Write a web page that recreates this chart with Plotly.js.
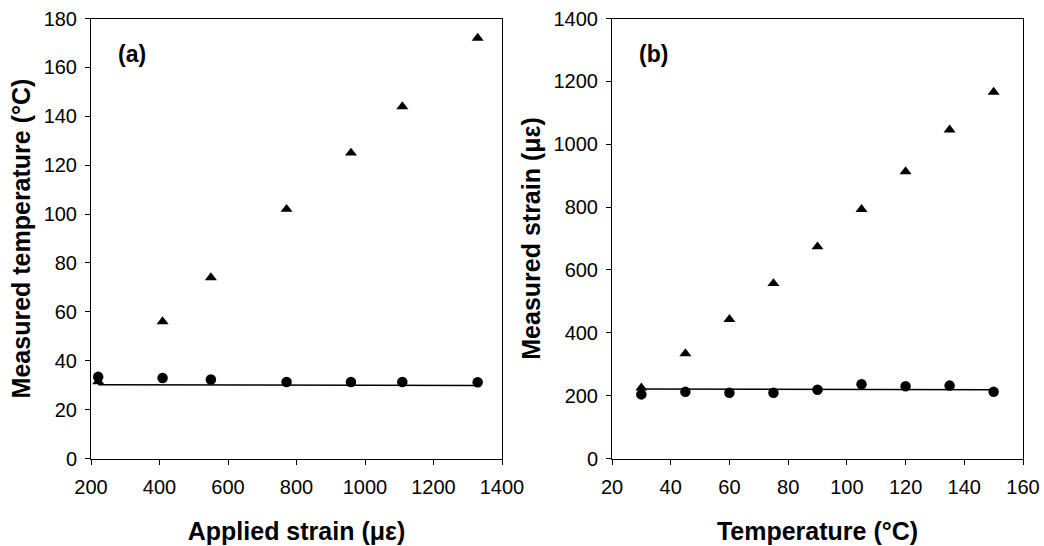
<!DOCTYPE html>
<html>
<head>
<meta charset="utf-8">
<script src="https://cdn.plot.ly/plotly-3.0.1.min.js"></script>
<style>html,body{margin:0;padding:0;background:#fff;}#chart{width:1044px;height:546px;}</style>
</head>
<body>
<div id="chart"></div>
<script>
// Panel (a): measured temperature vs applied strain
const strainA = [221, 409, 550, 771, 959, 1109, 1329];
const tempTriangleA = [31.5, 56, 74, 102, 125, 144, 172];
const tempCircleA = [33.4, 32.9, 32.3, 31.3, 31.3, 31.3, 31.2];
const lineA_x = [221, 1329];
const lineA_y = [30.2, 29.9];

// Panel (b): measured strain vs temperature
const tempB = [30, 45, 60, 75, 90, 105, 120, 135, 150];
const strainTriangleB = [225, 334, 443, 557, 674, 793, 913, 1046, 1166];
const strainCircleB = [204, 212, 209, 209, 219, 236, 230, 232, 212];
const lineB_x = [30, 150];
const lineB_y = [221, 219];

const ticksA_x = [200, 400, 600, 800, 1000, 1200, 1400];
const ticksA_y = [0, 20, 40, 60, 80, 100, 120, 140, 160, 180];
const ticksB_x = [20, 40, 60, 80, 100, 120, 140, 160];
const ticksB_y = [0, 200, 400, 600, 800, 1000, 1200, 1400];

const FONT = 'Liberation Sans, Arial, Helvetica, sans-serif';
const tri = {symbol: 'triangle-up', size: 10.5, color: '#000'};
const dot = {symbol: 'circle', size: 10.5, color: '#000'};

const traces = [
  {x: lineA_x, y: lineA_y, mode: 'lines', line: {color: '#000', width: 1.5}, xaxis: 'x', yaxis: 'y'},
  {x: strainA, y: tempTriangleA, mode: 'markers', marker: tri, xaxis: 'x', yaxis: 'y'},
  {x: strainA, y: tempCircleA, mode: 'markers', marker: dot, xaxis: 'x', yaxis: 'y'},
  {x: lineB_x, y: lineB_y, mode: 'lines', line: {color: '#000', width: 1.5}, xaxis: 'x2', yaxis: 'y2'},
  {x: tempB, y: strainTriangleB, mode: 'markers', marker: tri, xaxis: 'x2', yaxis: 'y2'},
  {x: tempB, y: strainCircleB, mode: 'markers', marker: dot, xaxis: 'x2', yaxis: 'y2'}
];

const axBase = {
  showgrid: false, zeroline: false, showline: true, linecolor: '#000', linewidth: 1,
  mirror: true, ticks: 'outside', ticklen: 5, tickcolor: '#000', tickwidth: 1,
  tickfont: {family: FONT, size: 20, color: '#000'}, fixedrange: true
};
const titleFont = {family: FONT, size: 25, color: '#000'};

const yTop = 1 - 18.5/546, yBot = 1 - 458.5/546;

const layout = {
  width: 1044, height: 546,
  margin: {l: 0, r: 0, t: 0, b: 0},
  paper_bgcolor: '#fff', plot_bgcolor: '#fff',
  showlegend: false,
  xaxis: Object.assign({}, axBase, {
    domain: [91/1044, 502/1044], range: [200, 1400], tickvals: ticksA_x, anchor: 'y', ticklabelstandoff: 5,
    title: {text: '<b>Applied strain (με)</b>', font: titleFont, standoff: 25}
  }),
  yaxis: Object.assign({}, axBase, {
    domain: [yBot, yTop], range: [0, 180], tickvals: ticksA_y, anchor: 'x', ticklabelstandoff: 4,
    title: {text: '<b>Measured temperature (°C)</b>', font: titleFont, standoff: 5}
  }),
  xaxis2: Object.assign({}, axBase, {
    domain: [612/1044, 1023/1044], range: [20, 160], tickvals: ticksB_x, anchor: 'y2', ticklabelstandoff: 5,
    title: {text: '<b>Temperature (°C)</b>', font: titleFont, standoff: 25}
  }),
  yaxis2: Object.assign({}, axBase, {
    domain: [yBot, yTop], range: [0, 1400], tickvals: ticksB_y, anchor: 'x2', ticklabelstandoff: 4,
    title: {text: '<b>Measured strain (με)</b>', font: titleFont, standoff: 5}
  }),
  annotations: [
    {text: '<b>(a)</b>', xref: 'x domain', yref: 'y domain', x: 0.062, y: 0.92, xanchor: 'left', yanchor: 'middle', showarrow: false, font: {family: FONT, size: 23, color: '#000'}},
    {text: '<b>(b)</b>', xref: 'x2 domain', yref: 'y2 domain', x: 0.062, y: 0.92, xanchor: 'left', yanchor: 'middle', showarrow: false, font: {family: FONT, size: 23, color: '#000'}}
  ]
};

Plotly.newPlot('chart', traces, layout, {staticPlot: true, displayModeBar: false});
</script>
</body>
</html>
